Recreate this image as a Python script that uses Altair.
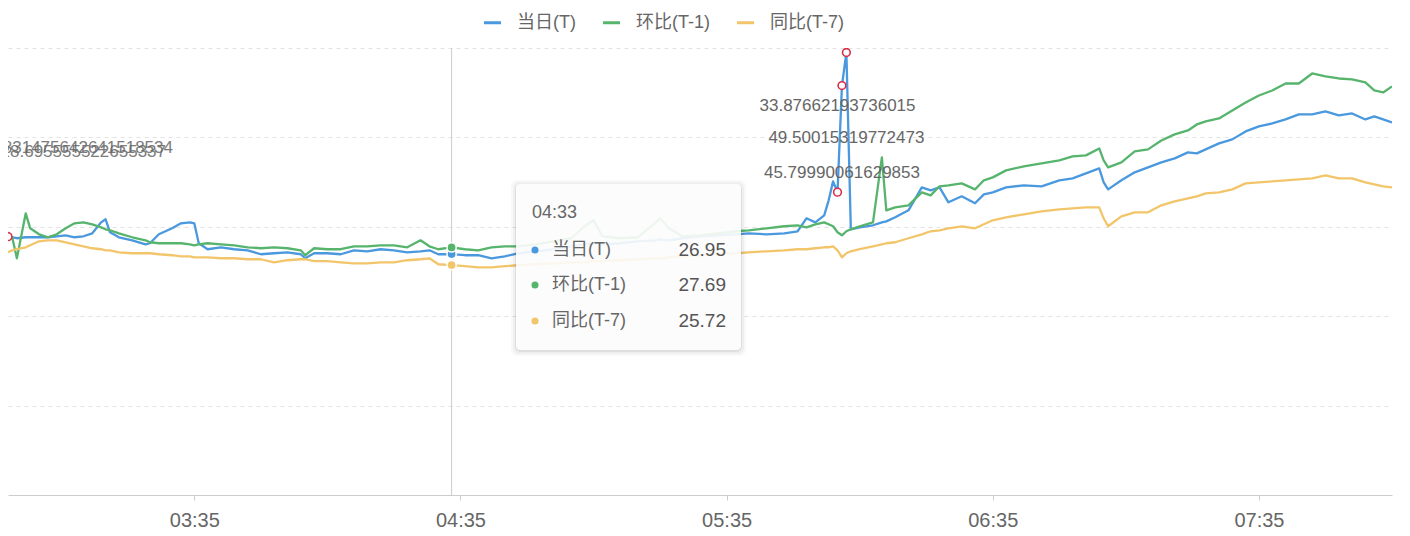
import altair as alt
import pandas as pd

# ---------------- data ----------------
times = [
    "02:53", "02:54", "02:55", "02:57", "02:58", "03:00", "03:02", "03:04", "03:06", "03:08",
    "03:10", "03:12", "03:14", "03:15", "03:16", "03:18", "03:21", "03:24", "03:25", "03:27",
    "03:30", "03:32", "03:34", "03:35", "03:36", "03:38", "03:41", "03:44", "03:47", "03:50",
    "03:53", "03:56", "03:59", "04:00", "04:02", "04:05", "04:08", "04:11", "04:14", "04:17",
    "04:20", "04:23", "04:26", "04:28", "04:30", "04:33", "04:36", "04:39", "04:42", "04:45",
    "04:48", "04:52", "04:56", "05:00", "05:03", "05:05", "05:07", "05:11", "05:15", "05:19",
    "05:20", "05:22", "05:25", "05:29", "05:33", "05:37", "05:40", "05:44", "05:48", "05:51",
    "05:53", "05:55", "05:57", "05:58", "05:59", "06:00", "06:01", "06:02", "06:03", "06:05",
    "06:08", "06:10", "06:11", "06:13", "06:16", "06:19", "06:21", "06:23", "06:25", "06:28",
    "06:31", "06:33", "06:35", "06:38", "06:42", "06:46", "06:50", "06:53", "06:56", "06:59",
    "07:00", "07:01", "07:04", "07:07", "07:10", "07:13", "07:16", "07:19", "07:21", "07:23",
    "07:26", "07:29", "07:32", "07:35", "07:38", "07:41", "07:44", "07:47", "07:50", "07:53",
    "07:56", "07:59", "08:01", "08:03", "08:05",
]

series_names = ["当日(T)", "环比(T-1)", "同比(T-7)"]
colors = ["#4A98DE", "#56B46C", "#F2C56A"]

today = [
    28.90, 28.83, 28.72, 28.83, 28.83, 28.83, 28.83, 28.94, 29.05, 28.83,
    28.94, 29.27, 30.50, 30.84, 29.39, 28.83, 28.49, 28.04, 28.16, 29.16,
    29.83, 30.39, 30.50, 30.39, 28.16, 27.49, 27.71, 27.49, 27.37, 26.93,
    27.04, 27.15, 26.93, 26.48, 27.04, 27.04, 26.93, 27.37, 27.26, 27.49,
    27.37, 27.15, 27.26, 27.37, 26.93, 26.95, 26.82, 26.82, 26.48, 26.70,
    27.04, 27.26, 27.49, 27.82, 28.04, 28.16, 28.04, 28.16, 28.38, 28.49,
    28.60, 28.49, 28.72, 28.94, 29.05, 29.16, 29.27, 29.16, 29.27, 29.50,
    30.95, 30.50, 31.28, 32.96, 35.08, 33.87662193736015, 45.79990061629853, 49.50015319772473, 29.72, 29.94,
    30.17, 30.50, 30.61, 31.06, 31.84, 34.41, 34.08, 34.41, 32.74, 33.41,
    32.63, 33.63, 33.85, 34.41, 34.64, 34.53, 35.20, 35.42, 35.98, 36.54,
    34.97, 34.19, 35.20, 36.09, 36.65, 37.21, 37.65, 38.32, 38.21, 38.66,
    39.33, 39.78, 40.67, 41.23, 41.56, 42.01, 42.57, 42.57, 42.91, 42.46,
    42.68, 42.01, 42.35, 42.01, 41.68,
]

day_before = [
    29.39, 28.72, 26.48, 31.51, 29.83, 29.16, 28.83, 29.16, 29.83, 30.39,
    30.50, 30.28, 29.94, 29.72, 29.61, 29.27, 28.83, 28.49, 28.27, 28.16,
    28.16, 28.16, 28.04, 27.93, 28.04, 28.16, 28.04, 27.93, 27.71, 27.60,
    27.71, 27.60, 27.37, 26.82, 27.60, 27.49, 27.49, 27.82, 27.82, 27.93,
    27.93, 27.71, 28.49, 27.82, 27.49, 27.69, 27.49, 27.37, 27.71, 27.82,
    27.82, 28.04, 28.38, 28.72, 30.06, 30.73, 28.94, 28.72, 28.83, 30.50,
    30.95, 29.83, 28.94, 29.05, 29.27, 29.50, 29.61, 29.83, 30.06, 30.17,
    29.94, 30.28, 30.50, 30.28, 30.06, 29.39, 29.05, 29.50, 29.72, 30.06,
    30.50, 37.77, 31.84, 32.18, 32.40, 33.85, 33.52, 34.53, 34.64, 34.86,
    34.19, 35.20, 35.53, 36.31, 36.76, 37.09, 37.43, 37.88, 37.99, 38.77,
    37.43, 36.65, 37.21, 38.44, 38.66, 39.66, 40.34, 40.78, 41.45, 41.79,
    42.12, 43.02, 43.91, 44.69, 45.25, 46.03, 46.03, 47.15, 46.82, 46.59,
    46.48, 46.15, 45.25, 45.03, 45.70,
]

week_before = [
    27.15, 27.37, 27.49, 27.71, 27.93, 28.38, 28.49, 28.49, 28.27, 28.04,
    27.82, 27.60, 27.49, 27.37, 27.37, 27.15, 27.04, 27.04, 27.04, 26.93,
    26.82, 26.70, 26.70, 26.59, 26.59, 26.59, 26.48, 26.48, 26.37, 26.37,
    26.03, 26.26, 26.37, 26.37, 26.15, 26.15, 26.03, 25.92, 25.92, 26.03,
    26.03, 26.26, 26.37, 26.48, 25.81, 25.72, 25.59, 25.47, 25.47, 25.59,
    25.70, 25.81, 25.92, 26.03, 26.03, 26.15, 26.15, 26.26, 26.37, 26.48,
    26.48, 26.59, 26.70, 26.82, 26.93, 27.04, 27.15, 27.26, 27.37, 27.49,
    27.49, 27.60, 27.71, 27.71, 27.82, 27.37, 26.59, 27.04, 27.26, 27.49,
    27.82, 28.04, 28.16, 28.27, 28.72, 29.16, 29.50, 29.61, 29.83, 30.06,
    29.83, 30.28, 30.73, 31.06, 31.40, 31.73, 31.96, 32.07, 32.18, 32.18,
    30.95, 30.06, 31.17, 31.62, 31.62, 32.40, 32.85, 33.18, 33.41, 33.74,
    33.85, 34.19, 34.86, 34.97, 35.08, 35.20, 35.31, 35.42, 35.75, 35.42,
    35.42, 34.97, 34.75, 34.53, 34.41,
]

tick_times = ["03:35", "04:35", "05:35", "06:35", "07:35"]
grid_values = [10, 20, 30, 40, 50]
hover_time = "04:33"
spike_times = ["06:00", "06:01", "06:02"]
spike_label_dy = [-86, 87, 86]
start_labels = ["28.831475642641518534", "28.695555522655337"]

# ---------------- helpers ----------------
def to_min(s):
    h, m = s.split(":")
    return int(h) * 60 + int(m)

all_series = [today, day_before, week_before]
rows = []
for name, vals in zip(series_names, all_series):
    for t, v in zip(times, vals):
        rows.append({"t": to_min(t), "label": t, "series": name, "value": v})
df = pd.DataFrame(rows)

W, H = 1384, 447
FONT = "Liberation Sans, Helvetica, Arial, Noto Sans CJK SC, sans-serif"
GRAY = "#666666"
RED = "#D9304A"

x_dom = [to_min(times[0]), to_min(times[-1])]
label_expr = ("(datum.value < 600 ? '0' : '') + floor(datum.value / 60) + ':' + "
              "(datum.value % 60 < 10 ? '0' : '') + (datum.value % 60)")

X = alt.X("t:Q",
          scale=alt.Scale(domain=x_dom, nice=False, zero=False),
          axis=alt.Axis(values=[to_min(s) for s in tick_times], labelExpr=label_expr,
                        title=None, grid=False, domainColor="#cccccc", tickColor="#cccccc",
                        tickSize=5, labelColor=GRAY, labelFontSize=20, labelPadding=10,
                        labelFont=FONT))
Y = alt.Y("value:Q",
          scale=alt.Scale(domain=[0, 50], nice=False),
          axis=alt.Axis(values=grid_values, labels=False, ticks=False, domain=False,
                        title=None, grid=True, gridDash=[4, 4], gridColor="#e3e3e3"))
color_scale = alt.Scale(domain=series_names, range=colors)

lines = alt.Chart(df).mark_line(strokeWidth=2.3, clip=True, strokeJoin="round").encode(
    x=X, y=Y,
    color=alt.Color("series:N", scale=color_scale, sort=series_names,
                    legend=alt.Legend(title=None, orient="none", legendX=474, legendY=-36,
                                      direction="horizontal", symbolType="stroke",
                                      symbolSize=290, symbolStrokeWidth=3,
                                      labelFontSize=18, labelColor=GRAY, labelFont=FONT,
                                      labelOffset=14, columnPadding=20)),
    order=alt.Order("t:Q"),
)

# crosshair
cross = alt.Chart(pd.DataFrame({"t": [to_min(hover_time)]})).mark_rule(
    color="#cccccc", strokeWidth=1).encode(x="t:Q", y=alt.value(0), y2=alt.value(H))

# hover dots on the lines
hover_df = df[df["label"] == hover_time]
hover_dots = alt.Chart(hover_df).mark_circle(size=85, opacity=1, stroke="white",
                                             strokeWidth=1.5).encode(
    x="t:Q", y="value:Q",
    color=alt.Color("series:N", scale=color_scale, legend=None))

# mark points
mp_times = [times[0]] + spike_times
mp_df = pd.DataFrame({"t": [to_min(s) for s in mp_times],
                      "value": [today[times.index(s)] for s in mp_times]})
mark_pts = alt.Chart(mp_df).mark_point(shape="circle", filled=True, fill="white",
                                       stroke=RED, strokeWidth=1.6, size=60, opacity=1,
                                       clip=True).encode(x="t:Q", y="value:Q")

label_layers = []
for s, dy in zip(spike_times, spike_label_dy):
    v = today[times.index(s)]
    ldf = pd.DataFrame({"t": [to_min(s)], "value": [v], "txt": [str(v)]})
    label_layers.append(alt.Chart(ldf).mark_text(
        fontSize=17, color=GRAY, font=FONT, dy=dy, align="center", baseline="middle"
    ).encode(x="t:Q", y="value:Q", text="txt:N"))

for txt, dx, dy in zip(start_labels, [165, 158], [-89, -85]):
    ldf = pd.DataFrame({"t": [to_min(times[0])], "value": [today[0]], "txt": [txt]})
    label_layers.append(alt.Chart(ldf).mark_text(
        fontSize=17, color=GRAY, font=FONT, dx=dx, dy=dy, align="right",
        baseline="middle", clip=True, opacity=0.85
    ).encode(x="t:Q", y="value:Q", text="txt:N"))

# tooltip box
one = pd.DataFrame({"a": [0]})
box_x, box_x2, box_y, box_y2 = 508, 733, 136, 302
shadow_layers = []
for grow, op in [(5, 0.025), (3, 0.04), (1, 0.07)]:
    shadow_layers.append(alt.Chart(one).mark_rect(
        fill="black", opacity=op, cornerRadius=6).encode(
        x=alt.value(box_x - grow), x2=alt.value(box_x2 + grow),
        y=alt.value(box_y - grow + 1), y2=alt.value(box_y2 + grow + 1)))
box = alt.Chart(one).mark_rect(fill="white", opacity=0.9, cornerRadius=4).encode(
    x=alt.value(box_x), x2=alt.value(box_x2), y=alt.value(box_y), y2=alt.value(box_y2))

header = alt.Chart(pd.DataFrame({"txt": [hover_time]})).mark_text(
    align="left", baseline="middle", fontSize=18, color=GRAY, font=FONT).encode(
    x=alt.value(524), y=alt.value(165), text="txt:N")

idx = times.index(hover_time)
tip_df = pd.DataFrame({
    "name": series_names,
    "val": [f"{s[idx]:.2f}" for s in all_series],
    "py": [202, 237, 273],
    "col": colors,
})
tip_dots = alt.Chart(tip_df).mark_circle(size=50, opacity=1).encode(
    x=alt.value(527), y=alt.Y("py:Q", scale=None, axis=None),
    color=alt.Color("col:N", scale=None, legend=None))
tip_names = alt.Chart(tip_df).mark_text(
    align="left", baseline="middle", fontSize=18, color=GRAY, font=FONT).encode(
    x=alt.value(544), y=alt.Y("py:Q", scale=None, axis=None), text="name:N")
tip_vals = alt.Chart(tip_df).mark_text(
    align="right", baseline="middle", fontSize=19, color="#555555", font=FONT).encode(
    x=alt.value(718), y=alt.Y("py:Q", scale=None, axis=None), text="val:N")

chart = alt.layer(
    lines, cross, hover_dots, mark_pts, *label_layers,
    *shadow_layers, box, header, tip_dots, tip_names, tip_vals,
).properties(
    width=W, height=H,
    autosize=alt.AutoSizeParams(type="none"),
    padding={"left": 0, "top": 40, "right": 10, "bottom": 38},
).configure(font=FONT).configure_view(stroke=None, strokeWidth=0)

chart.save("out.html", embed_options={"renderer": "svg", "actions": False})
